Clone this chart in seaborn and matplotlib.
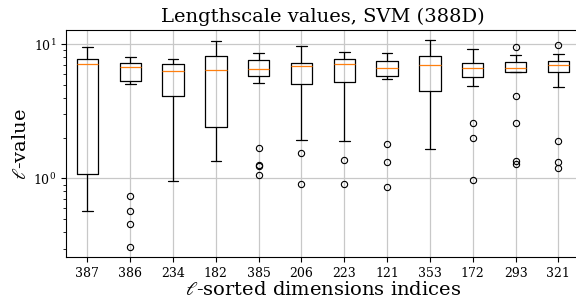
import pandas as pd
import seaborn as sns
import matplotlib.pyplot as plt
from matplotlib.ticker import NullFormatter

# dimension indices, sorted by median lengthscale
dims = ['387', '386', '234', '182', '385', '206', '223', '121', '353', '172', '293', '321']

# lengthscale samples per dimension
ls_387 = [0.576, 0.68, 0.79, 0.88, 0.98, 1.077, 2.2, 3.9, 5.5, 6.6, 7.13,
          7.25, 7.4, 7.55, 7.68, 7.77, 8.1, 8.5, 8.8, 9.2, 9.50]
ls_386 = [0.308, 0.455, 0.572, 0.746, 5.05, 5.32, 5.6, 5.9, 6.2, 6.5, 6.77,
          6.85, 6.95, 7.05, 7.15, 7.26, 7.4, 7.55, 7.7, 7.85, 7.99]
ls_234 = [0.954, 1.6, 2.3, 2.9, 3.5, 4.11, 4.6, 5.1, 5.5, 5.9, 6.28,
          6.45, 6.6, 6.8, 7.0, 7.13, 7.25, 7.4, 7.5, 7.65, 7.77]
ls_182 = [1.354, 1.6, 1.8, 2.0, 2.2, 2.43, 3.2, 4.0, 4.8, 5.6, 6.39,
          6.8, 7.2, 7.5, 7.8, 8.13, 8.6, 9.1, 9.6, 10.1, 10.53]
ls_385 = [1.064, 1.23, 1.258, 1.686, 5.11, 5.83, 5.95, 6.1, 6.25, 6.4, 6.50,
          6.7, 6.95, 7.2, 7.45, 7.68, 7.85, 8.0, 8.2, 8.4, 8.56]
ls_206 = [0.911, 1.546, 1.945, 3.2, 4.3, 5.05, 5.6, 6.0, 6.3, 6.6, 6.84,
          6.9, 7.0, 7.08, 7.15, 7.21, 7.6, 8.1, 8.6, 9.2, 9.73]
ls_223 = [0.911, 1.371, 1.892, 3.3, 4.5, 5.25, 5.8, 6.2, 6.55, 6.85, 7.08,
          7.2, 7.35, 7.5, 7.6, 7.70, 7.95, 8.2, 8.4, 8.6, 8.82]
ls_121 = [0.865, 1.331, 1.815, 5.51, 5.65, 5.76, 5.95, 6.15, 6.35, 6.5, 6.66,
          6.85, 7.05, 7.25, 7.4, 7.55, 7.8, 8.0, 8.2, 8.4, 8.56]
ls_353 = [1.657, 2.2, 2.8, 3.4, 4.0, 4.50, 5.0, 5.6, 6.1, 6.5, 6.96,
          7.2, 7.45, 7.7, 7.9, 8.13, 8.6, 9.1, 9.6, 10.2, 10.71]
ls_172 = [0.976, 2.01, 2.58, 4.88, 5.3, 5.66, 5.9, 6.1, 6.3, 6.5, 6.69,
          6.8, 6.95, 7.05, 7.15, 7.26, 7.7, 8.1, 8.5, 8.9, 9.18]
ls_293 = [1.28, 1.347, 2.58, 4.13, 6.2, 6.25, 6.32, 6.4, 6.48, 6.55, 6.61,
          6.75, 6.9, 7.1, 7.3, 7.42, 7.6, 7.8, 8.0, 8.33, 9.50]
ls_321 = [1.20, 1.33, 1.90, 4.77, 5.8, 6.22, 6.4, 6.6, 6.8, 6.95, 7.05,
          7.15, 7.25, 7.35, 7.45, 7.55, 7.75, 7.95, 8.2, 8.52, 9.90]

samples = [ls_387, ls_386, ls_234, ls_182, ls_385, ls_206,
           ls_223, ls_121, ls_353, ls_172, ls_293, ls_321]
data = pd.DataFrame(dict(zip(dims, samples))).melt(var_name='dim', value_name='ls')

sns.set_style('ticks', {'axes.edgecolor': 'black', 'text.color': 'black',
                        'xtick.color': 'black', 'ytick.color': 'black',
                        'axes.labelcolor': 'black'})
plt.rcParams['font.family'] = 'DejaVu Serif'
plt.rcParams['mathtext.fontset'] = 'dejavuserif'

fig = plt.figure(figsize=(5.76, 3.0), dpi=100)
ax = fig.add_axes([0.1146, 0.1433, 0.892, 0.7557])

sns.boxplot(data=data, x='dim', y='ls', order=dims, width=0.5, fill=False,
            color='black', linewidth=0.9, ax=ax,
            medianprops={'color': '#ff7f0e'},
            flierprops={'marker': 'o', 'markersize': 4.5,
                        'markerfacecolor': 'none', 'markeredgecolor': 'black',
                        'markeredgewidth': 0.8})

ax.set_yscale('log')
ax.set_ylim(0.26, 12.7)
ax.set_xlim(-0.5, 11.5)
ax.yaxis.set_minor_formatter(NullFormatter())
ax.grid(True, which='major', color='#c8c8c8', lw=0.9)
ax.set_axisbelow(True)

ax.tick_params(axis='both', which='major', labelsize=9)
ax.set_title('Lengthscale values, SVM (388D)', fontsize=14)
ax.set_xlabel(r'$\ell$-sorted dimensions indices', fontsize=14, labelpad=1)
ax.set_ylabel(r'$\ell$-value', fontsize=14, labelpad=2)

fig.savefig('out.png', dpi=100)
